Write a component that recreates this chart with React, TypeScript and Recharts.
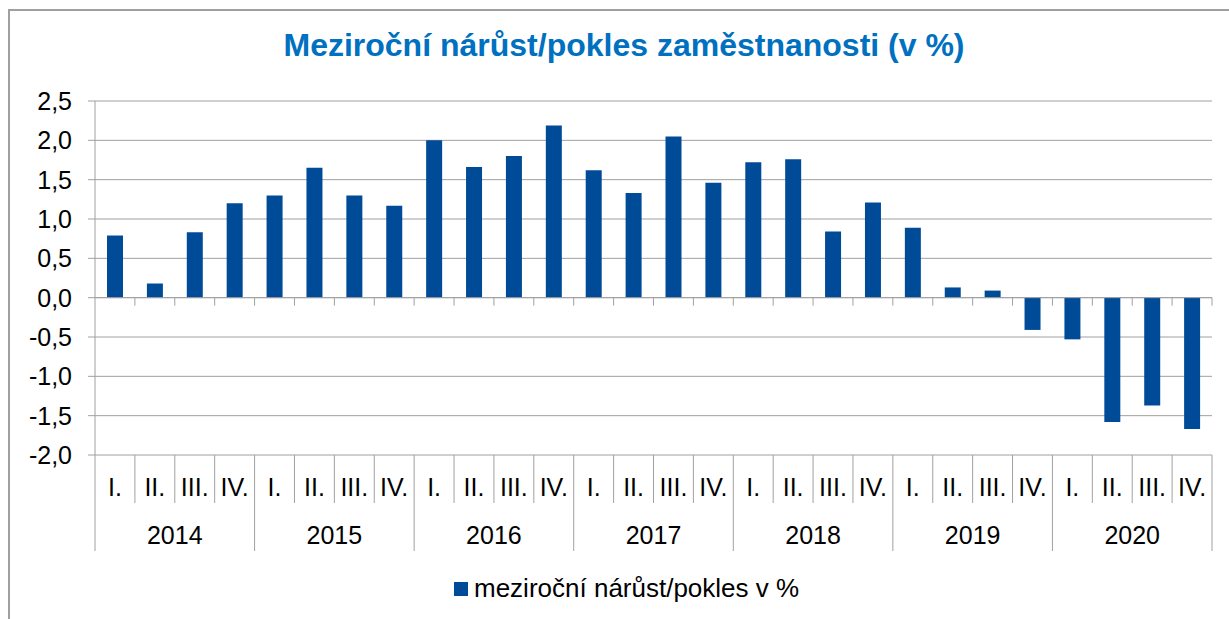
import React from "react";
import {
  BarChart,
  Bar,
  XAxis,
  YAxis,
  CartesianGrid,
  ReferenceLine,
} from "recharts";

// Meziroční nárůst/pokles zaměstnanosti — quarterly bars 2014–2020

const years = ["2014", "2015", "2016", "2017", "2018", "2019", "2020"];
const quarters = ["I.", "II.", "III.", "IV."];
const values = [
  0.79, 0.18, 0.83, 1.2,
  1.3, 1.65, 1.3, 1.17,
  2.0, 1.66, 1.8, 2.19,
  1.62, 1.33, 2.05, 1.46,
  1.72, 1.76, 0.84, 1.21,
  0.89, 0.13, 0.09, -0.41,
  -0.53, -1.58, -1.37, -1.67,
];
const yTicks = [-2, -1.5, -1, -0.5, 0, 0.5, 1, 1.5, 2, 2.5];

const seriesName = "meziroční nárůst/pokles v %";
const title = "Meziroční nárůst/pokles zaměstnanosti (v %)";

const data = values.map((v, i) => ({
  q: quarters[i % 4],
  year: years[Math.floor(i / 4)],
  value: v,
}));

const W = 1229;
const H = 619;
const MARGIN = { top: 101, right: 17, left: 0, bottom: 64 };
const Y_AXIS_W = 95;
const PLOT_W = W - MARGIN.left - MARGIN.right - Y_AXIS_W;
const BAND = PLOT_W / data.length;

const FONT = "'Liberation Sans', Arial, sans-serif";
const GRID = "#a0a0a0";
const BAR = "#004b98";
const LABEL_SIZE = 25;

function fmt(v: number) {
  return v.toFixed(1).replace(".", ",");
}

function QuarterTick(props: any) {
  const { x, y, index, payload } = props;
  const left = x - BAND / 2;
  const right = x + BAND / 2;
  const first = index % 4 === 0;
  const last = index === data.length - 1;
  return (
    <g>
      <line x1={left} y1={y} x2={left} y2={y + (first ? 96 : 48)} stroke={GRID} strokeWidth={1} />
      {last && <line x1={right} y1={y} x2={right} y2={y + 96} stroke={GRID} strokeWidth={1} />}
      <text x={x} y={y + 41} textAnchor="middle" fontSize={LABEL_SIZE} fill="#000" fontFamily={FONT}>
        {payload.value}
      </text>
      {first && (
        <text x={x + BAND * 1.5} y={y + 89} textAnchor="middle" fontSize={LABEL_SIZE} fill="#000" fontFamily={FONT}>
          {data[index].year}
        </text>
      )}
    </g>
  );
}

function ZeroLine(props: any) {
  const { x1, y1, x2 } = props;
  const step = (x2 - x1) / data.length;
  return (
    <g>
      <line x1={x1} y1={y1} x2={x2} y2={y1} stroke={GRID} strokeWidth={1} />
      {data.map((_, i) => (
        <line key={i} x1={x1 + step * (i + 1)} y1={y1} x2={x1 + step * (i + 1)} y2={y1 + 8} stroke={GRID} strokeWidth={1} />
      ))}
    </g>
  );
}

export default function App() {
  return (
    <div
      style={{
        position: "absolute",
        left: 0,
        top: 0,
        width: W,
        height: H,
        overflow: "hidden",
        background: "#fff",
        fontFamily: FONT,
      }}
    >
      <div
        style={{
          position: "absolute",
          left: 8,
          top: 9,
          width: 1400,
          height: 800,
          borderLeft: "2px solid " + GRID,
          borderTop: "2px solid " + GRID,
        }}
      />
      <div
        style={{
          position: "absolute",
          left: 0,
          top: 27,
          width: 1248,
          textAlign: "center",
          fontSize: 32,
          fontWeight: "bold",
          color: "#0070c0",
        }}
      >
        {title}
      </div>
      <div style={{ position: "absolute", left: 0, top: 0 }}>
        <BarChart width={W} height={H} data={data} margin={MARGIN} barSize={16}>
          <CartesianGrid vertical={false} stroke={GRID} strokeWidth={1} />
          <XAxis
            dataKey="q"
            height={100}
            axisLine={false}
            tickLine={false}
            tickSize={0}
            tickMargin={0}
            interval={0}
            tick={<QuarterTick />}
          />
          <YAxis
            width={Y_AXIS_W}
            domain={[-2, 2.5]}
            ticks={yTicks}
            interval={0}
            tickFormatter={fmt}
            tickSize={7}
            tickMargin={16}
            stroke={GRID}
            tick={{ fontSize: LABEL_SIZE, fill: "#000", fontFamily: FONT }}
          />
          <ReferenceLine y={0} shape={<ZeroLine />} />
          <Bar dataKey="value" name={seriesName} fill={BAR} isAnimationActive={false} />
        </BarChart>
      </div>
      <div
        style={{
          position: "absolute",
          left: 454,
          top: 573,
          display: "flex",
          alignItems: "center",
          fontSize: 26,
          color: "#000",
        }}
      >
        <span style={{ display: "inline-block", width: 14, height: 14, background: BAR, marginRight: 6 }} />
        <span>{seriesName}</span>
      </div>
    </div>
  );
}
